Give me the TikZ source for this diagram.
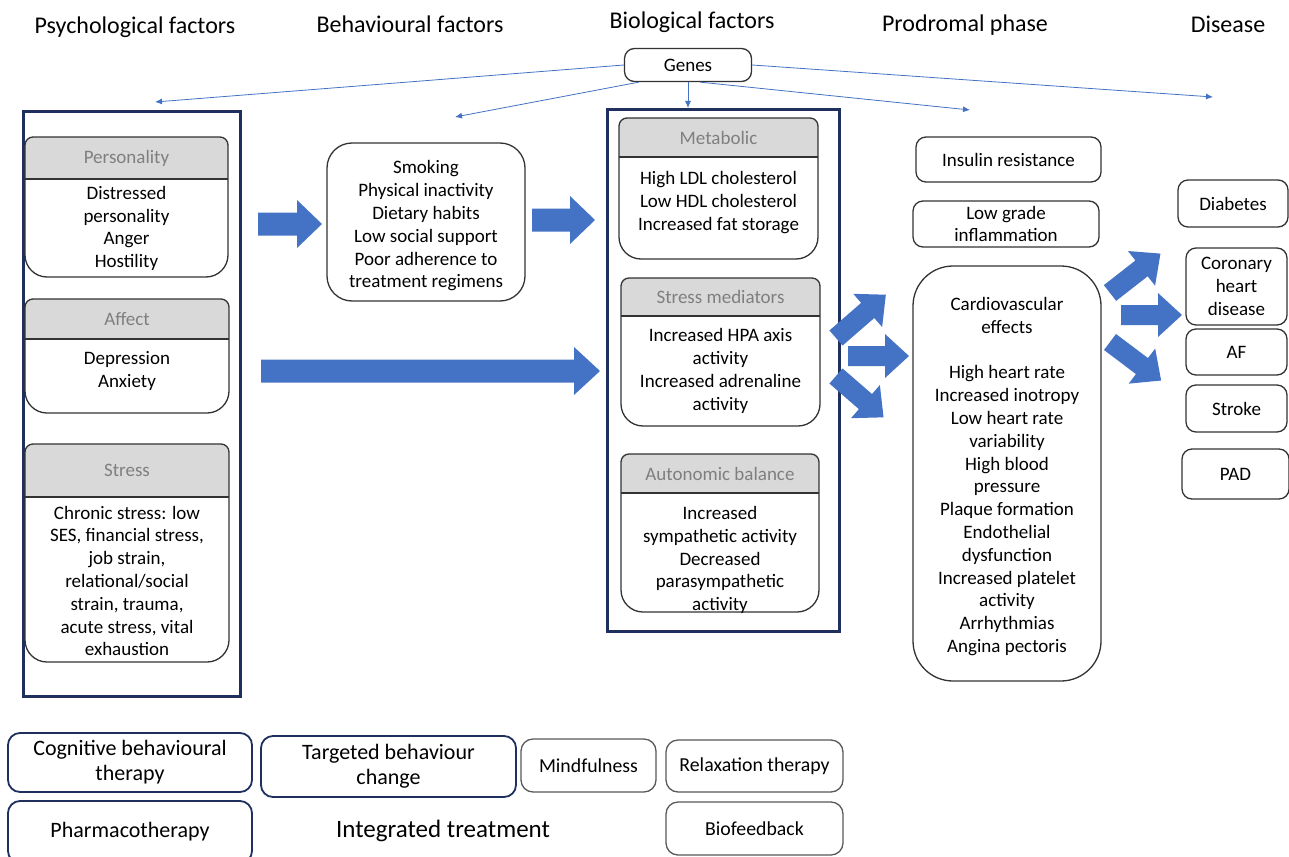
\documentclass[tikz,border=0pt]{standalone}
\usepackage{fontspec}
\setmainfont{Carlito}
\usetikzlibrary{arrows.meta}
\definecolor{blockblue}{HTML}{4472C4}
\definecolor{navy}{HTML}{1F2F5E}
\definecolor{hdrgrey}{HTML}{D9D9D9}
\definecolor{hdrtextgrey}{HTML}{7F7F7F}
\definecolor{boxgrey}{HTML}{333333}
\definecolor{lightbox}{HTML}{595959}

% name, x1, y1, x2, y2, header bottom, header, body, body centre y
\newcommand{\subpanel}[9]{%
  \begin{scope}
    \clip (#2,#6) [rounded corners=8pt] -- (#2,#3) -- (#4,#3) -- (#4,#6) [rounded corners=22pt] -- (#4,#5) -- (#2,#5) -- cycle;
    \fill[hdrgrey] (#2,#3) rectangle (#4,#6);
  \end{scope}
  \draw[panel] (#2,#6) [rounded corners=8pt] -- (#2,#3) -- (#4,#3) -- (#4,#6) [rounded corners=22pt] -- (#4,#5) -- (#2,#5) -- cycle;
  \draw[panel] (#2,#6) -- (#4,#6);
  \node[hdr] (#1h) at ({(#2+#4)/2},{(#3+#6)/2}) {#7};
  \node[body] (#1) at ({(#2+#4)/2},#9) {#8};
}
% x, y, angle, length, shaft half, head half, head length
\newcommand{\blockarr}[7]{%
  \fill[blockblue, shift={(#1,#2)}, rotate=#3]
    (0,-#5) -- ({#4-#7},-#5) -- ({#4-#7},-#6) -- (#4,0) -- ({#4-#7},#6) -- ({#4-#7},#5) -- (0,#5) -- cycle;
}

\begin{document}
\begin{tikzpicture}[x=1pt,y=-1pt,
  title/.style={font=\fontsize{24}{28}\selectfont, inner sep=0pt},
  body/.style={font=\fontsize{19}{22.8}\selectfont, align=center, inner sep=0pt, yshift=-2.5pt},
  hdr/.style={font=\fontsize{19}{22}\selectfont, text=hdrtextgrey, inner sep=0pt},
  bigframe/.style={draw=navy, line width=3pt, inner sep=0pt, anchor=north west},
  panel/.style={draw=boxgrey, line width=1.3pt},
  rbox/.style={draw=boxgrey, line width=1.3pt, rounded corners=10pt, align=center, inner sep=0pt,
    font=\fontsize{19}{22.8}\selectfont},
  tbox/.style={draw=navy, line width=1.8pt, rounded corners=12pt, align=center, inner sep=0pt,
    font=\fontsize{22}{25}\selectfont},
  gbox/.style={draw=lightbox, line width=1.3pt, rounded corners=12pt, align=center, inner sep=0pt,
    font=\fontsize{19.8}{25}\selectfont},
  thinarrow/.style={draw=blockblue, line width=0.8pt, -{Latex[length=7pt,width=6pt]}}
]
\useasboundingbox (0,0) rectangle (1289,856);
\fill[white] (0,0) rectangle (1289,856);

% titles
\node[title] (tPsy) at (135,27) {Psychological factors};
\node[title] (tBeh) at (410,24) {Behavioural factors};
\node[title] (tBio) at (692,22) {Biological factors};
\node[title] (tPro) at (965,25) {Prodromal phase};
\node[title] (tDis) at (1228,24) {Disease};

% genes
\node[rbox, minimum width=127pt, minimum height=33pt] (genes) at (688,65) {Genes};

% big frames
\node[bigframe, minimum width=217pt, minimum height=585pt] (psy) at (22,110) {};
\node[bigframe, minimum width=232pt, minimum height=522pt] (bio) at (606,108) {};

% gene arrows
\coordinate (g1) at (155,102);
\coordinate (g2) at (455,117);
\coordinate (g4) at (970,110);
\coordinate (g5) at (1213,97);
\draw[thinarrow] (genes.west) -- (g1);
\draw[thinarrow] ([xshift=15pt]genes.south west) -- (g2);
\draw[thinarrow] (genes.south) -- (genes.south |- bio.north);
\draw[thinarrow] ([xshift=-52pt]genes.south east) -- (g4);
\draw[thinarrow] (genes.east) -- (g5);

% psychological panels
\subpanel{pers}{25}{137}{228}{277}{179}{Personality}{Distressed\\personality\\Anger\\Hostility}{226}
\subpanel{aff}{25}{299}{229}{413}{339}{Affect}{Depression\\Anxiety}{368.5}
\subpanel{str}{25}{444}{229}{662}{497}{Stress}{Chronic stress: low\\SES, financial stress,\\job strain,\\relational/social\\strain, trauma,\\acute stress, vital\\exhaustion}{578.5}

% biological panels
\subpanel{met}{619}{118}{818}{259}{157}{Metabolic}{High LDL cholesterol\\Low HDL cholesterol\\Increased fat storage}{200}
\subpanel{smed}{621}{278}{820}{426}{316}{Stress mediators}{Increased HPA axis\\activity\\Increased adrenaline\\activity}{368.5}
\subpanel{auto}{621}{454}{819}{612}{493}{Autonomic balance}{Increased\\sympathetic activity\\Decreased\\parasympathetic\\activity}{557.5}

% behavioural
\node[rbox, rounded corners=25pt, minimum width=198pt, minimum height=158pt] (beh) at (426,222) {};
\node[body] (behT) at (426,223.5)
  {Smoking\\Physical inactivity\\Dietary habits\\Low social support\\Poor adherence to\\treatment regimens};

% prodromal
\node[rbox, minimum width=185pt, minimum height=45pt] (ins) at (1008.5,159.5) {Insulin resistance};
\node[rbox, minimum width=186pt, minimum height=46pt] (infl) at (1006,224) {Low grade\\inflammation};
\node[rbox, rounded corners=40pt, minimum width=188pt, minimum height=415pt] (cv) at (1007,473.5) {};
\node[body] (cvT) at (1007,474) {Cardiovascular\\effects\\[22.8pt]High heart rate\\Increased inotropy\\Low heart rate\\variability\\High blood\\pressure\\Plaque formation\\Endothelial\\dysfunction\\Increased platelet\\activity\\Arrhythmias\\Angina pectoris};

% disease
\node[rbox, minimum width=110pt, minimum height=47pt] (diab) at (1233,203.5) {Diabetes};
\node[rbox, minimum width=101pt, minimum height=77pt] (chd) at (1236.5,286.5) {Coronary\\heart\\disease};
\node[rbox, minimum width=101pt, minimum height=46pt] (af) at (1236.5,352) {AF};
\node[rbox, minimum width=101pt, minimum height=47pt] (stroke) at (1236.5,408.5) {Stroke};
\node[rbox, minimum width=107pt, minimum height=50pt] (pad) at (1235.5,474) {PAD};

% block arrows
\blockarr{258}{224}{0}{64}{11.5}{24}{25}
\blockarr{532}{220}{0}{63}{11.5}{24}{25}
\blockarr{261}{371}{0}{339}{11.5}{24}{26}
\blockarr{836}{338}{41}{66}{10}{22}{24}
\blockarr{848}{356}{0}{61}{10}{22}{24}
\blockarr{836}{376}{-41}{63}{10}{22}{24}
\blockarr{1110}{293}{38}{64}{10}{22}{24}
\blockarr{1121}{315}{0}{61}{10}{22}{24}
\blockarr{1110}{342}{-37}{64}{10}{22}{24}

% treatments
\node[tbox, minimum width=244pt, minimum height=59pt] (cbt) at (130,762.5) {Cognitive behavioural\\therapy};
\node[tbox, minimum width=255pt, minimum height=61pt] (tbc) at (388.5,766.5) {Targeted behaviour\\change};
\node[gbox, minimum width=135pt, minimum height=53pt] (mind) at (588.5,765.5) {Mindfulness};
\node[gbox, minimum width=177pt, minimum height=52pt] (relax) at (754.5,766) {Relaxation therapy};
\node[tbox, minimum width=244pt, minimum height=62pt] (pharm) at (130,832) {Pharmacotherapy};
\node[inner sep=0pt, font=\fontsize{25}{28}\selectfont] (integ) at (443,831) {Integrated treatment};
\node[gbox, minimum width=177pt, minimum height=53pt] (biof) at (754.5,828.5) {Biofeedback};
\end{tikzpicture}
\end{document}
